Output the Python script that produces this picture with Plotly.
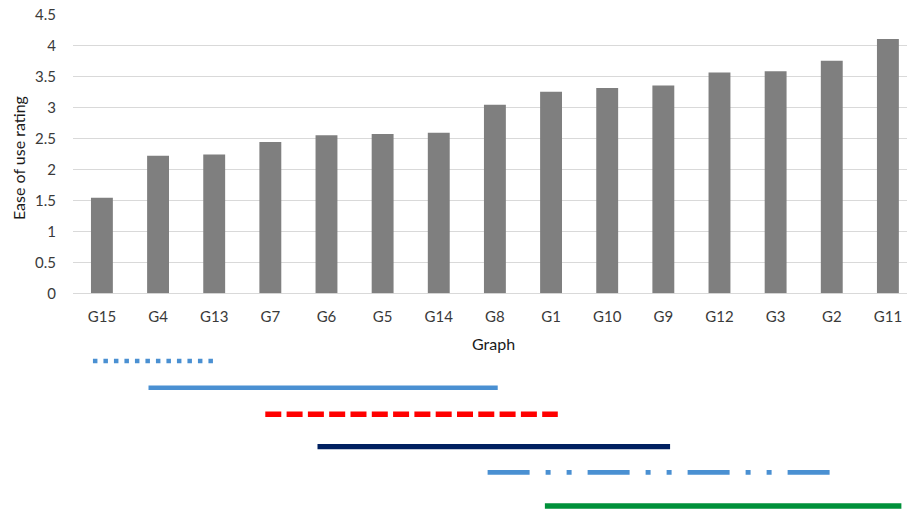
import plotly.graph_objects as go

# Mean ease-of-use rating per graph, sorted ascending
graphs = ["G15", "G4", "G13", "G7", "G6", "G5", "G14", "G8", "G1", "G10", "G9", "G12", "G3", "G2", "G11"]
ratings = [1.54, 2.22, 2.24, 2.44, 2.55, 2.57, 2.59, 3.04, 3.25, 3.31, 3.35, 3.56, 3.58, 3.75, 4.10]

# Grouping lines drawn under the x axis (positions in category-index units)
group_start = [-0.16, 0.83, 2.91, 3.84, 6.87, 7.89]
group_end = [2.02, 7.05, 8.12, 10.12, 13.03, 14.24]
group_level = [150, 123.3, 96.7, 64.3, 38.7, 5]
group_color = ["#4A90D2", "#4A90D2", "#FF0000", "#002060", "#4A90D2", "#00913A"]
group_dash = ["4.5px,6px", "solid", "16px,5.3px", "solid", "42px,16px,5px,16px,5px,16px", "solid"]
group_width = [4.5, 4.5, 5.5, 5.2, 4.7, 5.6]

FONT = "Lato"
TXT = "#3A3A3A"

fig = go.Figure()

fig.add_trace(go.Bar(
    x=list(range(len(graphs))),
    y=ratings,
    width=0.39,
    marker=dict(color="#7F7F7F", line=dict(width=0)),
    showlegend=False,
    hoverinfo="x+y",
))

for s, e, lv, c, d, w in zip(group_start, group_end, group_level, group_color, group_dash, group_width):
    fig.add_trace(go.Scatter(
        x=[s, e], y=[lv, lv],
        mode="lines",
        line=dict(color=c, width=w, dash=d),
        xaxis="x", yaxis="y2",
        showlegend=False,
        hoverinfo="skip",
    ))

W, H = 907, 511
fig.update_layout(
    width=W, height=H,
    margin=dict(l=72.5, r=0, t=0, b=0),
    paper_bgcolor="white",
    plot_bgcolor="white",
    font=dict(family=FONT, size=15, color=TXT),
    xaxis=dict(
        range=[-0.515, 14.34],
        tickmode="array",
        tickvals=list(range(len(graphs))),
        ticktext=graphs,
        showgrid=False,
        zeroline=False,
        showline=False,
        ticks="",
        ticklabelstandoff=13,
        tickfont=dict(size=15, color=TXT, family=FONT),
        automargin=False,
        anchor="y",
    ),
    yaxis=dict(
        domain=[(H - 293.3) / H, (H - 14.3) / H],
        range=[0, 4.5],
        dtick=0.5,
        showgrid=True,
        gridcolor="#D9D9D9",
        gridwidth=1.3,
        zeroline=True,
        zerolinecolor="#D9D9D9",
        zerolinewidth=1.3,
        showline=False,
        ticks="",
        ticklabelstandoff=16,
        tickfont=dict(size=15, color=TXT, family=FONT),
        automargin=False,
    ),
    yaxis2=dict(
        domain=[0, 204.4 / H],
        range=[0, 204.4],
        visible=False,
        automargin=False,
        anchor="x",
    ),
    annotations=[
        dict(text="Ease of use rating", xref="paper", yref="paper",
             x=-55 / (W - 72.5), y=(H - 158) / H, textangle=-90,
             showarrow=False, xanchor="center", yanchor="middle",
             font=dict(size=16, color="#1A1A1A", family=FONT)),
        dict(text="Graph", xref="paper", yref="paper",
             x=(493.5 - 72.5) / (W - 72.5), y=(H - 343) / H,
             showarrow=False, xanchor="center", yanchor="middle",
             font=dict(size=16, color="#1A1A1A", family=FONT)),
    ],
)

fig.write_html("out.html")
